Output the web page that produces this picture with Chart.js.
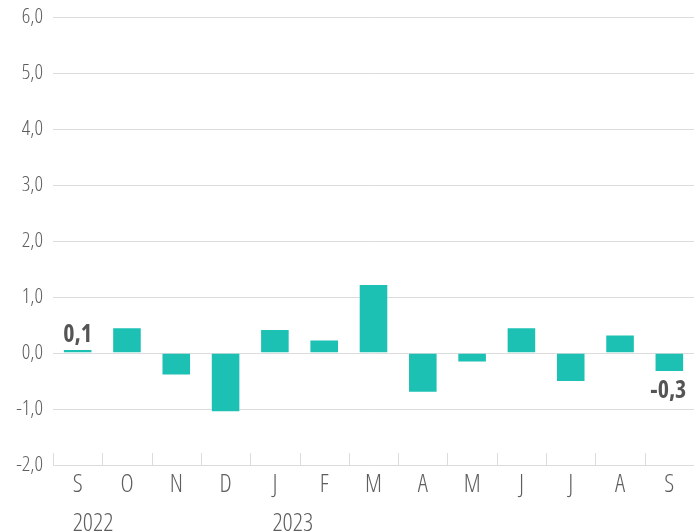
<!DOCTYPE html>
<html>
<head>
<meta charset="utf-8">
<script src="https://cdn.jsdelivr.net/npm/chart.js@4/dist/chart.umd.min.js"></script>
<style>
  html, body { margin: 0; padding: 0; background: #fff; }
  #wrap { width: 694px; height: 531px; position: relative; }
</style>
</head>
<body>
<div id="wrap"><canvas id="chart"></canvas></div>
<script>
"use strict";

// ---------- Data ----------

const MONTHS = ["S", "O", "N", "D", "J", "F", "M", "A", "M", "J", "J", "A", "S"];
const YEARS = [
    { index: 0, label: "2022" },
    { index: 4, label: "2023" },
];
const VALUES = [0.07, 0.46, -0.4, -1.06, 0.43, 0.24, 1.23, -0.71, -0.17, 0.46, -0.52, 0.33, -0.34];
// only first and last bars carry a value label
const VALUE_LABELS = ["0,1", null, null, null, null, null, null, null, null, null, null, null, "-0,3"];
const Y_TICKS = [-2, -1, 0, 1, 2, 3, 4, 5, 6];

const FONT = "'Open Sans', sans-serif";
const LIGHT = "300 condensed";     // passed as weight so the font string gets the stretch
const BAR_COLOR = "#1dc1b4";
const GRID_COLOR = "#dcdcdc";
const TEXT_COLOR = "#5e5e5e";

// ---------- Plugins ----------

// small upward tick marks between categories on the base line
const categoryTicks = {
    id: "categoryTicks",
    afterDraw(chart) {
        const { ctx, chartArea, scales } = chart;
        const x = scales.x;
        const half = (x.getPixelForValue(1) - x.getPixelForValue(0)) / 2;
        ctx.save();
        ctx.strokeStyle = GRID_COLOR;
        ctx.lineWidth = 1;
        for (let i = 0; i < MONTHS.length; i++) {
            const px = Math.round(x.getPixelForValue(i) - half) + 0.5;
            ctx.beginPath();
            ctx.moveTo(px, chartArea.bottom);
            ctx.lineTo(px, chartArea.bottom - 12);
            ctx.stroke();
        }
        ctx.restore();
    },
};

// year labels, left aligned with the month label above them
const yearLabels = {
    id: "yearLabels",
    afterDraw(chart) {
        const { ctx, scales } = chart;
        const x = scales.x;
        ctx.save();
        ctx.font = `${LIGHT} 25px ${FONT}`;
        ctx.fillStyle = TEXT_COLOR;
        ctx.textBaseline = "alphabetic";
        ctx.textAlign = "left";
        for (const y of YEARS) {
            const w = ctx.measureText(MONTHS[y.index]).width;
            ctx.fillText(y.label, x.getPixelForValue(y.index) - w / 2, 531);
        }
        ctx.restore();
    },
};

// bold value labels on first and last bars
const valueLabels = {
    id: "valueLabels",
    afterDatasetsDraw(chart) {
        const { ctx } = chart;
        const meta = chart.getDatasetMeta(0);
        ctx.save();
        ctx.font = `bold condensed 24px ${FONT}`;
        ctx.fillStyle = "#555555";
        ctx.textAlign = "center";
        ctx.textBaseline = "alphabetic";
        meta.data.forEach((bar, i) => {
            const text = VALUE_LABELS[i];
            if (!text) return;
            if (VALUES[i] >= 0) {
                ctx.fillText(text, bar.x, bar.y - 7);
            } else {
                ctx.fillText(text, bar.x - 1, bar.y + 9 + 17);
            }
        });
        ctx.restore();
    },
};

// ---------- Chart ----------

new Chart(document.getElementById("chart"), {
    type: "bar",
    data: {
        labels: MONTHS,
        datasets: [
            {
                data: VALUES,
                backgroundColor: BAR_COLOR,
                borderColor: "rgba(255,255,255,0.45)",
                borderWidth: 1,
                categoryPercentage: 1,
                barPercentage: 0.6,
            },
        ],
    },
    options: {
        responsive: true,
        maintainAspectRatio: false,
        animation: false,
        layout: { padding: { top: 17, right: 0, left: 0, bottom: 0 } },
        plugins: {
            legend: { display: false },
            tooltip: { enabled: false },
        },
        scales: {
            x: {
                offset: true,
                grid: { display: false, drawTicks: false },
                border: { display: false },
                ticks: {
                    font: { family: FONT, size: 25, weight: LIGHT },
                    color: TEXT_COLOR,
                    padding: 5,
                    maxRotation: 0,
                    autoSkip: false,
                },
                afterFit: (scale) => { scale.height = 66; },
            },
            y: {
                min: -2,
                max: 6,
                afterBuildTicks: (scale) => {
                    scale.ticks = Y_TICKS.map((v) => ({ value: v }));
                },
                grid: { color: GRID_COLOR, lineWidth: 1, drawTicks: false },
                border: { display: false },
                ticks: {
                    font: { family: FONT, size: 21, weight: LIGHT },
                    color: TEXT_COLOR,
                    padding: 10,
                    callback: (v) => Number(v).toFixed(1).replace(".", ","),
                },
                afterFit: (scale) => {
                    scale.width = 53;
                    scale.paddingTop = 0;
                    scale.paddingBottom = 0;
                },
            },
        },
    },
    plugins: [categoryTicks, yearLabels, valueLabels],
});
</script>
</body>
</html>
